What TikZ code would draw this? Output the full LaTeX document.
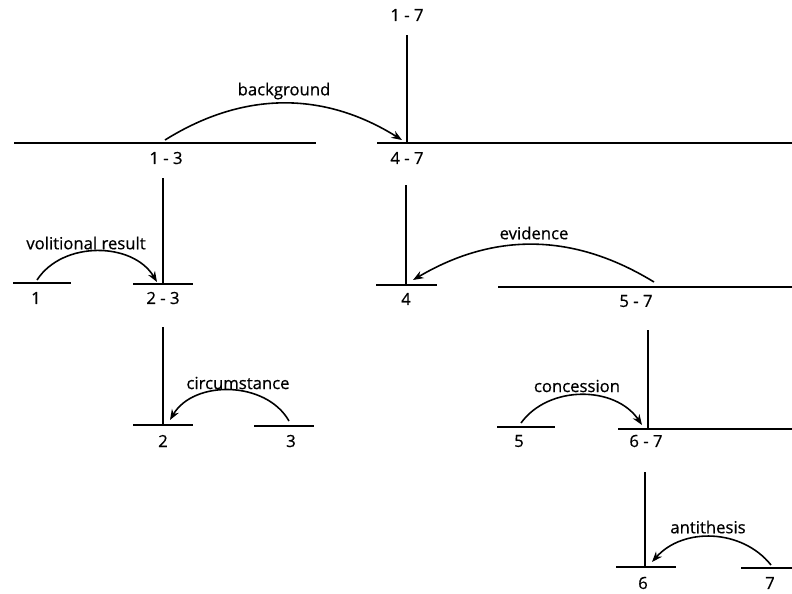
\documentclass[tikz,border=0pt]{standalone}
\usepackage{fontspec}
\setmainfont{Open Sans}[FakeBold=0.6]
\usetikzlibrary{arrows.meta}
\begin{document}
\begin{tikzpicture}[x=0.02cm,y=-0.02cm,>=Stealth,font=\fontsize{9.5}{11}\selectfont]
\tikzset{bar/.style={line width=1pt},stem/.style={line width=1pt},
  arr/.style={-{Stealth[length=6pt,width=4.5pt]},line width=0.9pt},lab/.style={inner sep=1pt}}
\useasboundingbox (0,0) rectangle (792,593);
% segment bars
\draw[bar] (14,143)--(316,143); \draw[bar] (377,143)--(792,143);
\draw[bar] (13,283)--(71,283); \draw[bar] (133,284)--(193,284);
\draw[bar] (376,285)--(437,285); \draw[bar] (498,287)--(792,287);
\draw[bar] (133,425)--(193,425); \draw[bar] (254,426)--(314,426);
\draw[bar] (497,427)--(555,427); \draw[bar] (618,429)--(792,429);
\draw[bar] (616,567)--(676,567); \draw[bar] (741,568)--(792,568);
% span labels
\node[lab] (l17) at (407,15) {1 - 7};
\node[lab] (l13) at (166,158) {1 - 3};
\node[lab] (l47) at (407,158) {4 - 7};
\node[lab] (l1) at (36,298) {1};
\node[lab] (l23) at (163,298) {2 - 3};
\node[lab] (l4) at (406,299) {4};
\node[lab] (l57) at (636,301) {5 - 7};
\node[lab] (l2) at (163,441) {2};
\node[lab] (l3) at (291,441) {3};
\node[lab] (l5) at (519,441) {5};
\node[lab] (l67) at (646,441) {6 - 7};
\node[lab] (l6) at (643,583) {6};
\node[lab] (l7) at (770,583) {7};
% nucleus stems
\coordinate (t17) at (407,35); \coordinate (n47) at (407,143);
\coordinate (t13) at (163,178); \coordinate (n23) at (163,284);
\coordinate (t23) at (163,327); \coordinate (n2) at (163,425);
\coordinate (t47) at (406,185); \coordinate (n4) at (406,285);
\coordinate (t57) at (648,330); \coordinate (n67) at (648,429);
\coordinate (t67) at (645,472); \coordinate (n6) at (645,567);
\draw[stem] (t17)--(n47); \draw[stem] (t13)--(n23); \draw[stem] (t23)--(n2);
\draw[stem] (t47)--(n4); \draw[stem] (t57)--(n67); \draw[stem] (t67)--(n6);
% relation arcs
\coordinate (a13) at (165,140); \coordinate (b47) at (402,140);
\coordinate (a1) at (37,280); \coordinate (b23) at (157,282);
\coordinate (a3) at (289,421); \coordinate (b2) at (170,420);
\coordinate (a57) at (654,282); \coordinate (b4) at (413,280);
\coordinate (a5) at (521,423); \coordinate (b67) at (642,425);
\coordinate (a7) at (771,565); \coordinate (b6) at (652,562);
\draw[arr] (a13) to[bend left=32] (b47);
\draw[arr] (a1) to[bend left=58] (b23);
\draw[arr] (a3) to[bend right=60] (b2);
\draw[arr] (a57) to[bend right=31] (b4);
\draw[arr] (a5) to[bend left=55] (b67);
\draw[arr] (a7) to[bend right=50] (b6);
\node[lab] (rbg) at (284,91) {background};
\node[lab] (rvr) at (86,243) {volitional result};
\node[lab] (rci) at (238,383) {circumstance};
\node[lab] (rev) at (534,233) {evidence};
\node[lab] (rco) at (577,386) {concession};
\node[lab] (ran) at (708,527) {antithesis};
\end{tikzpicture}
\end{document}
